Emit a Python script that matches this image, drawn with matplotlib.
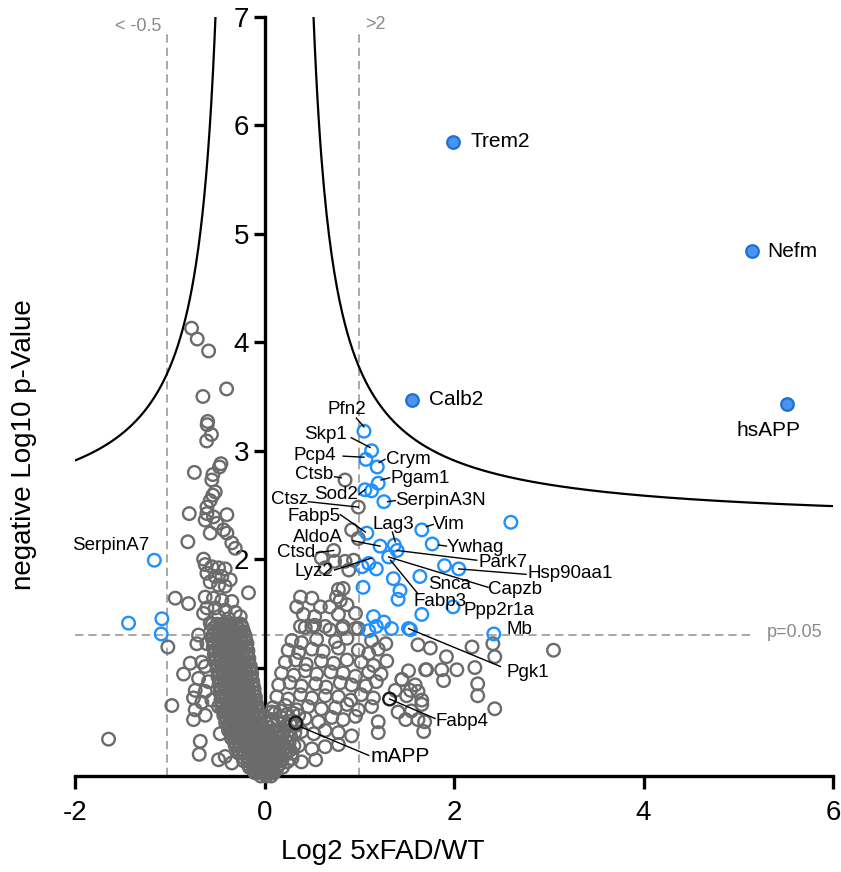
import numpy as np
import matplotlib.pyplot as plt

plt.rcParams['font.family'] = ['Liberation Sans', 'DejaVu Sans']
plt.rcParams['axes.unicode_minus'] = False

# grey proteins, left side (sparse part)
left_x = [-0.77, -0.71, -0.59, -0.40, -0.65, -0.60, -0.605, -0.56, -0.61, -0.46, -0.475, -0.74, -0.545, -0.52, -0.545,
          -0.556, -0.573, -0.608, -0.794, -0.608, -0.538, -0.397, -0.626, -0.503, -0.573, -0.432, -0.397, -0.809, -0.345,
          -0.309, -0.643, -0.626, -0.556, -0.485, -0.415, -0.608, -0.52, -0.45, -0.362, -0.573, -0.485, -0.415, -0.169,
          -0.942, -0.802, -0.626, -0.538, -0.45, -0.345, -0.608, -0.52, -0.415, -0.309, -0.643, -0.485, -0.38, -0.256,
          -0.573, -0.45, -0.345, -0.239,
          -1.02, -0.696, -0.608, -0.714, -0.784, -0.661, -0.626, -0.854, -0.696, -0.591, -0.731, -0.626, -0.749, -0.661,
          -0.978, -0.556, -0.731, -0.626, -0.749, -0.485, -1.646, -0.678, -0.689, -0.467, -0.485, -0.415, -0.345, -0.098,
          -0.081, 0.077]
left_y = [4.13, 4.03, 3.92, 3.57, 3.50, 3.27, 3.24, 3.15, 3.09, 2.88, 2.85, 2.80, 2.78, 2.62, 2.59,
          2.73, 2.54, 2.48, 2.42, 2.42, 2.39, 2.41, 2.36, 2.33, 2.24, 2.27, 2.24, 2.16, 2.15,
          2.10, 2.00, 1.95, 1.93, 1.92, 1.91, 1.87, 1.84, 1.84, 1.81, 1.79, 1.76, 1.75, 1.69,
          1.64, 1.59, 1.65, 1.64, 1.62, 1.61, 1.55, 1.55, 1.53, 1.51, 1.50, 1.47, 1.45, 1.47,
          1.41, 1.39, 1.38, 1.38,
          1.19, 1.30, 1.22, 1.22, 1.04, 1.05, 1.01, 0.94, 0.90, 0.87, 0.79, 0.78, 0.72, 0.68,
          0.65, 0.70, 0.61, 0.56, 0.52, 0.64, 0.34, 0.32, 0.20, 0.39, 0.15, 0.18, 0.12, 0.73,
          0.64, 0.59]

# grey proteins, dense core near x=0 (one list of x per row)
core_rows_y = [1.40, 1.365, 1.33, 1.295, 1.26, 1.225, 1.19, 1.155, 1.12, 1.085, 1.05, 1.015, 0.98, 0.945,
               0.91, 0.875, 0.84, 0.805, 0.77, 0.735, 0.70, 0.665, 0.63, 0.595, 0.56, 0.525, 0.49, 0.455,
               0.42, 0.385, 0.35, 0.315, 0.28, 0.245, 0.21, 0.175, 0.14, 0.11, 0.08, 0.055, 0.03, 0.00]
core_rows_x = [
    [-0.55, -0.50, -0.45, -0.40, -0.35, -0.30, -0.25],
    [-0.535, -0.485, -0.435, -0.385, -0.335, -0.285, -0.235],
    [-0.57, -0.52, -0.47, -0.42, -0.37, -0.32, -0.27, -0.22],
    [-0.545, -0.495, -0.445, -0.395, -0.345, -0.295, -0.245, -0.205],
    [-0.55, -0.50, -0.45, -0.40, -0.35, -0.30, -0.25, -0.20],
    [-0.535, -0.485, -0.435, -0.385, -0.335, -0.285, -0.235, -0.185],
    [-0.54, -0.49, -0.44, -0.39, -0.34, -0.29, -0.24, -0.19],
    [-0.525, -0.475, -0.425, -0.375, -0.325, -0.275, -0.225, -0.175],
    [-0.53, -0.48, -0.43, -0.38, -0.33, -0.28, -0.23, -0.18],
    [-0.515, -0.465, -0.415, -0.365, -0.315, -0.265, -0.215, -0.165],
    [-0.52, -0.47, -0.42, -0.37, -0.32, -0.27, -0.22, -0.17],
    [-0.495, -0.445, -0.395, -0.345, -0.295, -0.245, -0.195, -0.150],
    [-0.50, -0.45, -0.40, -0.35, -0.30, -0.25, -0.20, -0.15],
    [-0.485, -0.435, -0.385, -0.335, -0.285, -0.235, -0.185, -0.135],
    [-0.49, -0.44, -0.39, -0.34, -0.29, -0.24, -0.19, -0.14],
    [-0.475, -0.425, -0.375, -0.325, -0.275, -0.225, -0.175, -0.125],
    [-0.48, -0.43, -0.38, -0.33, -0.28, -0.23, -0.18, -0.12],
    [-0.465, -0.415, -0.365, -0.315, -0.265, -0.215, -0.165, -0.110],
    [-0.47, -0.42, -0.37, -0.32, -0.27, -0.22, -0.17, -0.11],
    [-0.455, -0.405, -0.355, -0.305, -0.255, -0.205, -0.155, -0.100],
    [-0.46, -0.41, -0.36, -0.31, -0.26, -0.21, -0.16, -0.10],
    [-0.445, -0.395, -0.345, -0.295, -0.245, -0.195, -0.140, -0.085],
    [-0.45, -0.40, -0.35, -0.30, -0.25, -0.20, -0.14, -0.08],
    [-0.425, -0.375, -0.325, -0.275, -0.225, -0.175, -0.120, -0.070],
    [-0.43, -0.38, -0.33, -0.28, -0.23, -0.18, -0.12, -0.07],
    [-0.405, -0.355, -0.305, -0.255, -0.205, -0.155, -0.105, -0.060],
    [-0.41, -0.36, -0.31, -0.26, -0.21, -0.16, -0.11, -0.06],
    [-0.380, -0.330, -0.280, -0.230, -0.180, -0.130, -0.080, -0.030],
    [-0.38, -0.33, -0.28, -0.23, -0.18, -0.13, -0.08, -0.03],
    [-0.350, -0.300, -0.250, -0.200, -0.150, -0.100, -0.050, 0.000],
    [-0.35, -0.30, -0.25, -0.20, -0.15, -0.10, -0.05, 0.00],
    [-0.315, -0.265, -0.215, -0.165, -0.115, -0.065, -0.015, 0.035],
    [-0.31, -0.26, -0.21, -0.16, -0.11, -0.06, -0.01, 0.04],
    [-0.275, -0.225, -0.175, -0.125, -0.075, -0.025, 0.025, 0.070],
    [-0.27, -0.22, -0.17, -0.12, -0.07, -0.02, 0.03, 0.08],
    [-0.230, -0.180, -0.130, -0.080, -0.030, 0.020, 0.070],
    [-0.22, -0.17, -0.12, -0.07, -0.02, 0.03, 0.08],
    [-0.175, -0.125, -0.075, -0.025, 0.025, 0.075],
    [-0.16, -0.11, -0.06, -0.01, 0.04, 0.09],
    [-0.115, -0.065, -0.015, 0.035, 0.085],
    [-0.10, -0.05, 0.00, 0.05, 0.10],
    [-0.04, 0.02, 0.07],
]

# grey proteins, right side
right_x = [0.43, 0.53, 0.69, 0.83, 0.99,
           0.29, 0.39, 0.55, 0.75, 0.87, 1.13, 1.28,
           0.25, 0.36, 0.50, 0.62, 0.78, 0.99, 1.10, 1.20,
           0.22, 0.33, 0.44, 0.60, 0.73, 0.87, 1.02, 1.15, 1.29,
           0.18, 0.31, 0.43, 0.55, 0.70, 0.83, 0.96, 1.10, 1.23, 1.52, 1.70,
           0.15, 0.27, 0.39, 0.54, 0.65, 0.80, 0.92, 1.07, 1.18, 1.45, 1.59,
           0.13, 0.25, 0.38, 0.50, 0.64, 0.78, 0.91, 1.02, 1.15, 1.38, 1.50, 1.62,
           0.09, 0.22, 0.34, 0.46, 0.60, 0.75, 0.87, 0.99, 1.13, 1.41, 1.55, 1.66,
           0.08, 0.18, 0.29, 0.43, 0.57, 0.71, 0.83, 0.96, 1.20, 1.49, 1.62,
           0.04, 0.15, 0.27, 0.39, 0.52, 0.64, 0.78, 0.92, 1.20, 1.68,
           0.01, 0.12, 0.22, 0.36, 0.50, 0.64, 0.78,
           -0.01, 0.08, 0.18, 0.29, 0.39, 0.54,
           0.04, 0.13,
           0.05, 0.10, 0.16, 0.22, 0.06, 0.12, 0.18, 0.24, 0.08, 0.14, 0.20, 0.26, 0.31,
           0.12, 0.17, 0.23, 0.29, 0.13, 0.19, 0.24, 0.14, 0.19, 0.08, 0.03, 0.02,
           0.04, 0.09, 0.06, 0.11, 0.16, 0.05, 0.10, 0.15, 0.20, 0.27, 0.04, 0.09, 0.14, 0.20, 0.26,
           0.32, 0.08, 0.14, 0.20, 0.27, 0.34, 0.11, 0.17, 0.24, 0.30, 0.36,
           2.19, 2.41, 2.43, 3.05, 1.92, 2.03, 2.22, 1.87, 1.89, 2.25, 2.25, 2.43, 1.71, 1.66, 1.69,
           1.54, 1.45, 1.62, 1.75,
           0.85, 0.99, 0.92, 0.99, 0.73, 0.60, 0.74, 0.85, 0.94, 0.64, 0.89, 0.78, 0.83, 0.38, 0.50,
           0.76, 0.80, 0.34, 0.59, 0.69, 0.87, 0.41, 0.53, 0.78, 0.96, 0.38, 0.50, 0.64, 0.82, 0.96]
right_y = [1.37, 1.39, 1.35, 1.38, 1.36,
           1.25, 1.23, 1.26, 1.24, 1.27, 1.25, 1.22,
           1.16, 1.14, 1.17, 1.15, 1.18, 1.16, 1.13, 1.17,
           1.05, 1.07, 1.03, 1.06, 1.04, 1.07, 1.05, 1.02, 1.06,
           0.95, 0.93, 0.97, 0.94, 0.96, 0.95, 0.92, 0.96, 0.94, 0.97, 0.98,
           0.84, 0.86, 0.83, 0.85, 0.82, 0.86, 0.84, 0.83, 0.87, 0.89, 0.84,
           0.73, 0.71, 0.75, 0.72, 0.74, 0.73, 0.70, 0.75, 0.72, 0.79, 0.74, 0.78,
           0.63, 0.65, 0.61, 0.64, 0.62, 0.63, 0.66, 0.61, 0.64, 0.59, 0.60, 0.66,
           0.52, 0.54, 0.51, 0.53, 0.50, 0.54, 0.52, 0.55, 0.50, 0.52, 0.52,
           0.40, 0.42, 0.38, 0.41, 0.39, 0.42, 0.40, 0.37, 0.40, 0.41,
           0.27, 0.29, 0.26, 0.28, 0.25, 0.27, 0.29,
           0.15, 0.17, 0.14, 0.16, 0.13, 0.15,
           0.06, 0.07,
           0.45, 0.47, 0.43, 0.46, 0.36, 0.39, 0.35, 0.37, 0.30, 0.31, 0.29, 0.31, 0.28,
           0.22, 0.20, 0.23, 0.21, 0.14, 0.16, 0.13, 0.09, 0.08, 0.10, 0.20, 0.33,
           0.05, 0.05, 0.12, 0.13, 0.11, 0.26, 0.25, 0.26, 0.25, 0.24, 0.40, 0.42, 0.41, 0.40, 0.42,
           0.40, 0.50, 0.51, 0.49, 0.48, 0.47, 0.58, 0.60, 0.57, 0.58, 0.56,
           1.19, 1.22, 1.10, 1.16, 1.10, 0.98, 1.00, 0.98, 0.88, 0.85, 0.74, 0.62, 0.98, 0.70, 0.50,
           0.79, 0.89, 1.21, 1.18,
           2.73, 2.48, 2.27, 2.19, 2.08, 2.01, 1.98, 1.98, 1.99, 1.92, 1.90, 1.72, 1.73, 1.65, 1.64,
           1.65, 1.62, 1.56, 1.56, 1.56, 1.58, 1.49, 1.47, 1.49, 1.50, 1.38, 1.38, 1.38, 1.36, 1.36]

# highlighted grey proteins (black edge)
dark_names = ['Fabp4', 'mAPP']
dark_x = [1.32, 0.33]
dark_y = [0.71, 0.49]

# significant proteins (open blue)
blue_x = [-1.163, -1.435, -1.083, -1.09,
          1.05, 1.13, 1.07, 1.19, 1.20, 1.06, 1.13, 1.26, 1.08, 1.37, 1.66, 1.77, 1.22, 1.40, 1.31,
          1.10, 1.03, 1.18, 1.36, 1.64, 1.04, 1.43, 1.41, 1.66, 1.15, 1.26, 1.10, 1.34, 1.52,
          1.18, 1.54, 2.60, 1.90, 2.05, 1.99, 2.42]
blue_y = [1.99, 1.41, 1.45, 1.31,
          3.18, 3.00, 2.92, 2.85, 2.70, 2.64, 2.63, 2.53, 2.24, 2.13, 2.27, 2.14, 2.12, 2.08, 2.02,
          1.96, 1.93, 1.91, 1.82, 1.84, 1.74, 1.71, 1.63, 1.49, 1.47, 1.42, 1.34, 1.36, 1.36,
          1.38, 1.35, 2.34, 1.94, 1.91, 1.56, 1.31]

# significant proteins above the curve (filled blue)
top_names = ['Trem2', 'Nefm', 'Calb2', 'hsAPP']
top_x = [1.99, 5.15, 1.56, 5.51]
top_y = [5.85, 4.84, 3.47, 3.43]

# threshold curve parameters
s0 = 0.30
curve_c = 1.02
curve_y0 = 2.31

# small labels: name, text x, text y, ha, leader start, leader end
lab_names = ['SerpinA7', 'Pfn2', 'Skp1', 'Pcp4', 'Crym', 'Ctsb', 'Pgam1', 'Sod2', 'Ctsz', 'SerpinA3N',
             'Fabp5', 'Lag3', 'Vim', 'Ywhag', 'AldoA', 'Park7', 'Hsp90aa1', 'Ctsd', 'Lyz2', 'Capzb',
             'Snca', 'Fabp3', 'Ppp2r1a', 'Mb', 'Pgk1', 'Fabp4']
lab_x = [-1.22, 0.87, 0.87, 0.76, 1.28, 0.73, 1.33, 0.99, 0.46, 1.38,
         0.80, 1.36, 1.78, 1.92, 0.83, 2.26, 2.78, 0.54, 0.73, 2.36,
         1.73, 1.57, 2.10, 2.55, 2.55, 1.80]
lab_y = [2.13, 3.38, 3.15, 2.96, 2.92, 2.78, 2.74, 2.60, 2.55, 2.54,
         2.39, 2.32, 2.32, 2.11, 2.20, 1.97, 1.87, 2.06, 1.89, 1.72,
         1.77, 1.61, 1.53, 1.35, 0.95, 0.50]
lab_ha = ['right', 'center', 'right', 'right', 'left', 'right', 'left', 'right', 'right', 'left',
          'right', 'center', 'left', 'left', 'right', 'left', 'left', 'right', 'right', 'left',
          'left', 'left', 'left', 'left', 'left', 'left']
lead_x0 = [None, 0.97, 0.915, 0.83, 1.21, 0.74, 1.23, 1.00, 0.46, 1.30,
           0.80, 1.35, 1.71, 1.84, 0.93, 2.24, 2.76, 0.55, 0.74, 2.36,
           None, 1.62, None, None, 2.49, 1.80]
lead_y0 = [None, 3.30, 3.12, 2.95, 2.89, 2.76, 2.73, 2.60, 2.53, 2.53,
           2.41, 2.25, 2.30, 2.13, 2.17, 1.99, 1.86, 2.06, 1.90, 1.74,
           None, 1.68, None, None, 1.01, 0.53]
lead_x1 = [None, 1.05, 1.115, 1.05, 1.27, 0.81, 1.32, 1.06, 0.99, 1.38,
           1.065, 1.38, 1.78, 1.92, 1.22, 1.40, 2.05, 0.73, 1.13, 1.31,
           None, 1.33, None, None, 1.52, 1.32]
lead_y1 = [None, 3.22, 3.03, 2.94, 2.92, 2.75, 2.75, 2.64, 2.48, 2.54,
           2.25, 2.16, 2.32, 2.12, 2.12, 2.08, 1.91, 2.08, 2.01, 2.02,
           None, 1.99, None, None, 1.36, 0.71]

grey = '#6b6b6b'
blue = '#1e90ff'

fig = plt.figure(figsize=(8.41, 8.72), dpi=100)
ax = fig.add_axes([75 / 841, 96 / 872, 758 / 841, 759 / 872])

core_x = [x for row in core_rows_x for x in row]
core_y = [y for y, row in zip(core_rows_y, core_rows_x) for _ in row]

pts_kw = dict(s=82, facecolors='none', linewidths=1.7, zorder=3, clip_on=False)
ax.scatter(core_x, core_y, edgecolors=grey, **pts_kw)
ax.scatter(left_x, left_y, edgecolors=grey, **pts_kw)
ax.scatter(right_x, right_y, edgecolors=grey, **pts_kw)
ax.scatter(dark_x, dark_y, edgecolors='#1a1a1a', **pts_kw)
ax.scatter(blue_x, blue_y, edgecolors=blue, **pts_kw)
ax.scatter(top_x, top_y, s=82, facecolors='#4a94ee', edgecolors='#1a6fd8', linewidths=1.6, zorder=4)

# threshold curves
xr = np.linspace(s0 + curve_c / (7 - curve_y0), 6, 400)
ax.plot(xr, curve_y0 + curve_c / (xr - s0), color='black', lw=1.6, zorder=2)
xl = np.linspace(-2, -(s0 + curve_c / (7 - curve_y0)), 400)
ax.plot(xl, curve_y0 + curve_c / (-xl - s0), color='black', lw=1.6, zorder=2)

# cut-off lines
dash = dict(color='#9a9a9a', lw=1.2, linestyle=(0, (5, 3)), zorder=1)
ax.plot([-1.03, -1.03], [0, 6.86], **dash)
ax.plot([1.0, 1.0], [0, 6.86], **dash)
ax.plot([-2, 5.18], [1.3, 1.3], **dash)
ax.text(-1.09, 6.91, '< -0.5', color='#8a8a8a', fontsize=13, ha='right', va='center')
ax.text(1.06, 6.93, '>2', color='#8a8a8a', fontsize=13, ha='left', va='center')
ax.text(5.30, 1.32, 'p=0.05', color='#8a8a8a', fontsize=13, ha='left', va='center')

# labels
ax.text(2.17, 5.85, 'Trem2', fontsize=15, va='center')
ax.text(5.31, 4.84, 'Nefm', fontsize=15, va='center')
ax.text(1.74, 3.47, 'Calb2', fontsize=15, va='center')
ax.text(5.32, 3.19, 'hsAPP', fontsize=15, va='center', ha='center')
ax.text(1.12, 0.18, 'mAPP', fontsize=15, va='center')
ax.plot([0.39, 1.10], [0.45, 0.19], color='black', lw=1.0, zorder=3)

for i, name in enumerate(lab_names):
    ax.text(lab_x[i], lab_y[i], name, fontsize=13.5, ha=lab_ha[i], va='center', zorder=5)
    if lead_x0[i] is not None:
        ax.plot([lead_x0[i], lead_x1[i]], [lead_y0[i], lead_y1[i]], color='black', lw=1.0, zorder=3)

# axes
ax.set_xlim(-2, 6)
ax.set_ylim(0, 7)
ax.spines['left'].set_position(('data', 0))
ax.spines['bottom'].set_position(('data', 0))
ax.spines['top'].set_visible(False)
ax.spines['right'].set_visible(False)
for sp in ['left', 'bottom']:
    ax.spines[sp].set_linewidth(2.4)
ax.set_xticks([-2, 0, 2, 4, 6])
ax.set_yticks([1, 2, 3, 4, 5, 6, 7])
ax.tick_params(axis='x', length=9, width=2.4, labelsize=20, pad=8)
ax.tick_params(axis='y', length=8, width=2.4, labelsize=20, pad=3)

fig.text(383 / 841, 1 - 852 / 872, 'Log2 5xFAD/WT', fontsize=20, ha='center', va='center')
fig.text(24 / 841, 1 - 445 / 872, 'negative Log10 p-Value', fontsize=20, ha='center', va='center', rotation=90)

fig.savefig('out.png', dpi=100)
